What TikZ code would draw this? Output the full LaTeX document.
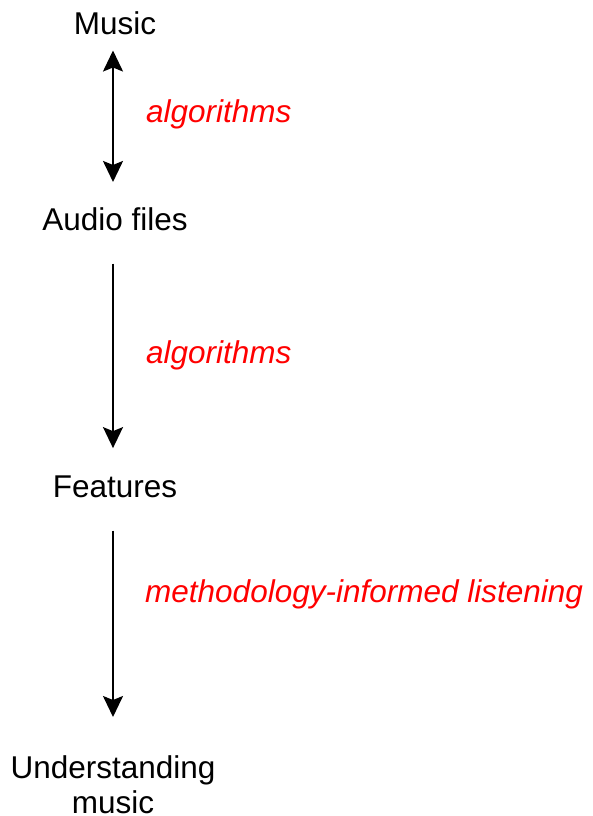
\documentclass[tikz,border=0pt]{standalone}
\usepackage{fontspec}
\setmainfont{Liberation Sans}
\usetikzlibrary{positioning, arrows.meta}

\begin{document}
\begin{tikzpicture}[x=1pt, y=-1pt]
	\tikzset{
		stage/.style={inner sep=0pt, font=\fontsize{31.5}{35}\selectfont, align=center},
		how/.style={inner sep=0pt, anchor=base west, text=red, font=\fontsize{31.5}{35}\selectfont\itshape},
		flow/.style={line width=2pt, -{Stealth[length=21pt, width=20pt, inset=4pt]}},
		twoway/.style={line width=2pt, {Stealth[length=21pt, width=20pt, inset=4pt]}-{Stealth[length=21pt, width=20pt, inset=4pt]}}
	}
	\useasboundingbox (0,0) rectangle (592,816);
	% stages
	\node[stage, anchor=base] (music) at (115,35) {Music};
	\node[stage, anchor=base] (audio) at (115,230) {Audio files};
	\node[stage, anchor=base] (feat) at (115,497) {Features};
	\node[stage, anchor=north] (under) at (113,755) {Understanding\\music};
	% arrows
	\draw[twoway, shorten <=15pt, shorten >=25pt] (music.south -| under.north) -- (audio.north -| under.north);
	\draw[flow, shorten <=33pt, shorten >=27pt] (audio.south -| under.north) -- (feat.north -| under.north);
	\draw[flow, shorten <=33pt, shorten >=38pt] (feat.south -| under.north) -- (under.north);
	% labels
	\node[how] (alg1) at (146,122) {algorithms};
	\node[how] (alg2) at (146,363) {algorithms};
	\node[how] (listen) at (145,602) {methodology-informed listening};
\end{tikzpicture}
\end{document}
